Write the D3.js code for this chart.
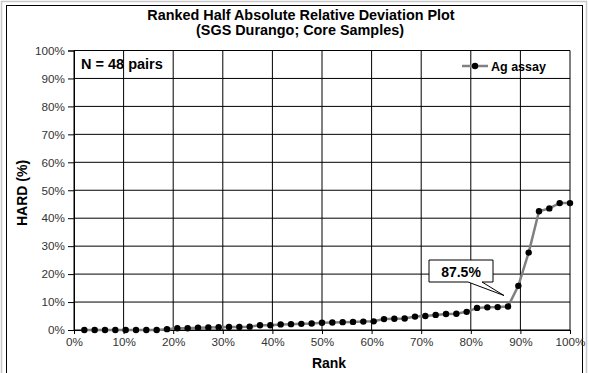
<!DOCTYPE html>
<html><head><meta charset="utf-8">
<script src="https://cdn.jsdelivr.net/npm/d3@7"></script>
<style>body{margin:0;background:#fff}text{font-family:"Liberation Sans",Arial,sans-serif}</style>
</head><body>
<script>
const titleLines = ["Ranked Half Absolute Relative Deviation Plot", "(SGS Durango; Core Samples)"];
const seriesName = "Ag assay";
const nPairs = 48;
const hardValues = [0,0,0,0,0,0,0,0,0.3,0.6,0.6,0.8,0.9,1.0,1.1,1.1,1.2,1.7,1.7,2.0,2.1,2.2,2.3,2.6,2.7,2.8,2.9,3.0,3.1,3.9,4.0,4.1,4.8,5.0,5.4,5.7,5.8,6.5,7.9,8.1,8.2,8.4,15.8,27.7,42.5,43.5,45.4,45.4];
const xTicks = [0,10,20,30,40,50,60,70,80,90,100];
const yTicks = [0,10,20,30,40,50,60,70,80,90,100];
const calloutRank = 87.5;

const W = 589, H = 373;
const svg = d3.select("body").append("svg").attr("width", W).attr("height", H);

// frames
svg.append("rect").attr("x",1.5).attr("y",1.5).attr("width",585).attr("height",375).attr("fill","none").attr("stroke","#c8c8c8").attr("stroke-width",1.5);
svg.append("rect").attr("x",6.5).attr("y",5.5).attr("width",576).attr("height",375).attr("fill","#fff").attr("stroke","#000");

const x = d3.scaleLinear().domain([0,100]).range([74,570]);
const y = d3.scaleLinear().domain([0,100]).range([330,50.5]);

const g = svg.append("g");
g.selectAll(".hg").data(yTicks).join("line").attr("x1",x(0)).attr("x2",x(100)).attr("y1",d=>y(d)).attr("y2",d=>y(d)).attr("stroke","#000").attr("stroke-width",1);
g.selectAll(".vg").data(xTicks).join("line").attr("y1",y(0)).attr("y2",y(100)).attr("x1",d=>x(d)).attr("x2",d=>x(d)).attr("stroke","#000").attr("stroke-width",1);

const yAxis = d3.axisLeft(y).tickValues(yTicks).tickFormat(d=>d+"%").tickSize(6).tickPadding(3);
const xAxis = d3.axisBottom(x).tickValues(xTicks).tickFormat(d=>d+"%").tickSize(4).tickPadding(4);
const ya = svg.append("g").attr("transform",`translate(${x(0)},0)`).call(yAxis);
const xa = svg.append("g").attr("transform",`translate(0,${y(0)})`).call(xAxis);
[ya,xa].forEach(a=>{
  a.select(".domain").attr("stroke","#000");
  a.selectAll(".tick line").attr("stroke","#000");
  a.selectAll(".tick text").attr("fill","#333").style("font-size","11.7px").style("font-family","Liberation Sans, Arial, sans-serif");
});

svg.append("text").attr("x",301).attr("y",19.5).attr("text-anchor","middle").style("font-weight","bold").style("font-size","14.4px").text(titleLines[0]);
svg.append("text").attr("x",300).attr("y",35).attr("text-anchor","middle").style("font-weight","bold").style("font-size","14.4px").text(titleLines[1]);
svg.append("text").attr("x",329).attr("y",368).attr("text-anchor","middle").style("font-weight","bold").style("font-size","14px").text("Rank");
svg.append("text").attr("transform","translate(27,193) rotate(-90)").attr("text-anchor","middle").style("font-weight","bold").style("font-size","14px").text("HARD (%)");
svg.append("text").attr("x",81).attr("y",69).style("font-weight","bold").style("font-size","14.5px").text(`N = ${nPairs} pairs`);

const data = hardValues.map((v,i)=>({r:(i+1)/nPairs*100, v}));
const line = d3.line().x(d=>x(d.r)).y(d=>y(d.v));
svg.append("path").datum(data).attr("d",line).attr("fill","none").attr("stroke","#808080").attr("stroke-width",2.5);
svg.selectAll(".pt").data(data).join("circle").attr("cx",d=>x(d.r)).attr("cy",d=>y(d.v)).attr("r",3.2).attr("fill","#000");

const ly = 66;
svg.append("line").attr("x1",462).attr("x2",488).attr("y1",ly).attr("y2",ly).attr("stroke","#808080").attr("stroke-width",2.5);
svg.append("circle").attr("cx",475).attr("cy",ly).attr("r",3.2).attr("fill","#000");
svg.append("text").attr("x",491).attr("y",ly+4.5).style("font-weight","bold").style("font-size","12.5px").text(seriesName);

const cp = data.find(d=>Math.abs(d.r-calloutRank)<0.01);
const tipX = x(cp.r)-4, tipY = y(cp.v)-11;
const bx0=429, bx1=493, by0=260, by1=282;
svg.append("path").attr("d",`M${bx0},${by0}H${bx1}V${by1}H482L${tipX},${tipY}L468,${by1}H${bx0}Z`).attr("fill","#fff").attr("stroke","#000").attr("stroke-width",1);
svg.append("text").attr("x",(bx0+bx1)/2).attr("y",276.5).attr("text-anchor","middle").style("font-weight","bold").style("font-size","14px").text(calloutRank+"%");
</script>
</body></html>
